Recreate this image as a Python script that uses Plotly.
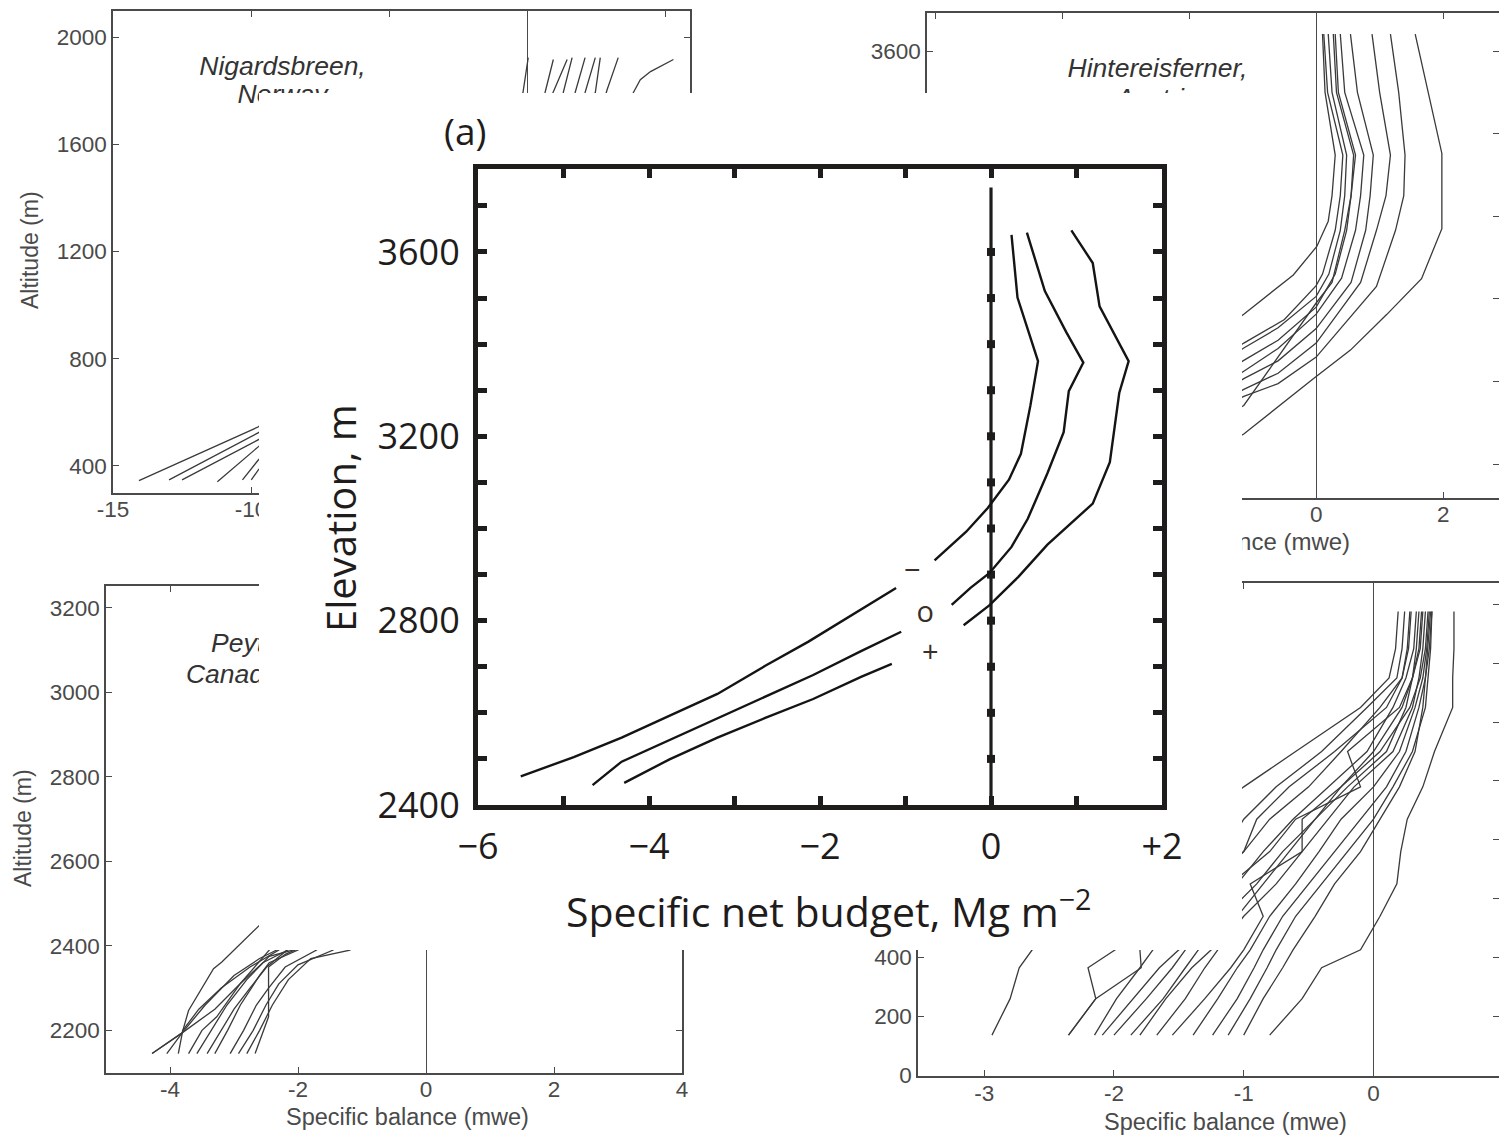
import plotly.graph_objects as go

W, H = 1499, 1137

# ---------------- panel (a): specific net budget vs elevation ----------------
budget_minus = [0.24, 0.31, 0.55, 0.46, 0.35, 0.21, -0.04, -0.29, -0.66, None,
                -1.11, -1.64, -2.14, -2.64, -3.20, -3.77, -4.32, -4.88, -5.50]
elev_minus = [3637, 3501, 3363, 3266, 3162, 3106, 3044, 2993, 2931, None,
              2871, 2810, 2754, 2702, 2641, 2593, 2546, 2504, 2462]
budget_zero = [0.42, 0.63, 0.88, 1.08, 0.91, 0.85, 0.66, 0.43, 0.24, -0.02, -0.24, -0.46, None,
               -1.05, -1.52, -2.08, -2.64, -3.20, -3.77, -4.32, -4.66]
elev_zero = [3642, 3515, 3426, 3360, 3298, 3209, 3120, 3021, 2960, 2903, 2871, 2834, None,
             2776, 2734, 2682, 2635, 2589, 2541, 2494, 2443]
budget_plus = [0.94, 1.19, 1.27, 1.61, 1.50, 1.39, 1.19, 0.94, 0.66, 0.32, -0.02, -0.32, None,
               -1.16, -1.52, -2.08, -2.64, -3.20, -3.76, -4.29]
elev_plus = [3647, 3576, 3482, 3363, 3294, 3144, 3054, 3012, 2965, 2895, 2833, 2790, None,
             2706, 2678, 2630, 2589, 2546, 2499, 2448]
curve_labels = ["\u2212", "o", "+"]
label_budget = [-0.92, -0.77, -0.71]
label_elev = [2905, 2812, 2726]

ref_line_budget = [0, 0]
ref_line_elev = [2400, 3740]
ref_tick_budget = [0] * 12
ref_tick_elev = [2500, 2600, 2700, 2800, 2900, 3000, 3100, 3200, 3300, 3400, 3500, 3600]

a_xticks = [-6, -5, -4, -3, -2, -1, 0, 1, 2]
a_xtext = ["\u22126", "", "\u22124", "", "\u22122", "", "0", "", "+2"]
a_yticks = [2400, 2500, 2600, 2700, 2800, 2900, 3000, 3100, 3200, 3300, 3400, 3500, 3600, 3700]
a_ytext = ["2400", "", "", "", "2800", "", "", "", "3200", "", "", "", "3600", ""]

# ---------------- background panel: Nigardsbreen ----------------
nig_balance = [
    [-14.06, -9.73, -6.0, -2.5, -0.5, -0.15, 0.04],
    [-12.97, -9.73, -6.0, -2.0, 0.3, 0.65, 0.95],
    [-12.5, -9.73, -5.5, -1.5, 0.6, 0.94, 1.45],
    [-11.22, -9.73, -5.0, -1.0, 1.0, 1.31, 1.63],
    [-10.31, -9.73, -4.5, -0.5, 1.4, 1.74, 2.10],
    [-9.99, -9.73, -4.0, 0.0, 1.8, 2.10, 2.47],
    [-8.5, -3.5, 0.5, 2.2, 2.47, 2.65],
    [-7.5, -3.0, 1.0, 2.6, 2.9, 3.3],
    [-6.0, -1.5, 2.0, 3.5, 3.85, 4.1, 4.47, 5.3],
]
nig_altitude = [
    [345, 546, 900, 1400, 1700, 1793, 1923],
    [348, 524, 880, 1400, 1700, 1793, 1916],
    [348, 498, 900, 1400, 1700, 1793, 1916],
    [341, 472, 900, 1400, 1700, 1793, 1923],
    [348, 423, 900, 1400, 1700, 1793, 1923],
    [348, 386, 900, 1400, 1700, 1793, 1923],
    [345, 900, 1400, 1700, 1793, 1923],
    [345, 900, 1400, 1700, 1804, 1923],
    [345, 900, 1400, 1700, 1793, 1841, 1871, 1916],
]

# ---------------- background panel: Hintereisferner ----------------
hin_balance = [
    [0.10, 0.14, 0.30, 0.25, 0.19, 0.01, -0.36, -1.14, -2.2],
    [0.12, 0.18, 0.42, 0.38, 0.30, 0.10, 0.00, -0.50, -1.14, -2.2],
    [0.19, 0.25, 0.48, 0.45, 0.38, 0.20, 0.00, -0.60, -1.14, -2.2],
    [0.27, 0.32, 0.59, 0.55, 0.48, 0.30, 0.00, -0.60, -1.14, -2.2],
    [0.30, 0.35, 0.62, 0.55, 0.45, 0.25, 0.00, -0.60, -1.14, -2.2],
    [0.38, 0.45, 0.75, 0.70, 0.62, 0.40, 0.00, -0.60, -1.14, -2.2],
    [0.54, 0.65, 0.90, 0.85, 0.78, 0.55, 0.00, -0.60, -1.14, -2.2],
    [0.88, 1.00, 1.17, 1.10, 0.95, 0.70, 0.00, -0.60, -1.14, -2.2],
    [1.17, 1.30, 1.40, 1.38, 1.25, 0.95, 0.00, -0.60, -1.14, -2.2],
    [1.56, 1.98, 1.98, 1.66, 1.11, 0.54, -0.04, -1.14, -2.2],
]
hin_altitude = [
    [3641, 3500, 3348, 3250, 3188, 3127, 3058, 2963, 2850],
    [3641, 3500, 3348, 3250, 3166, 3060, 3032, 2950, 2893, 2780],
    [3641, 3500, 3348, 3250, 3166, 3060, 3006, 2930, 2881, 2770],
    [3641, 3500, 3348, 3250, 3166, 3060, 2980, 2900, 2851, 2750],
    [3641, 3500, 3348, 3250, 3166, 3040, 2990, 2860, 2742, 2650],
    [3641, 3500, 3348, 3250, 3166, 3050, 2963, 2880, 2825, 2720],
    [3641, 3500, 3348, 3250, 3166, 3040, 2928, 2850, 2807, 2700],
    [3641, 3500, 3348, 3250, 3166, 3040, 2893, 2820, 2781, 2690],
    [3641, 3500, 3348, 3250, 3166, 3030, 2859, 2795, 2764, 2680],
    [3641, 3352, 3170, 3049, 2962, 2876, 2807, 2673, 2580],
]

# ---------------- background panel: Peyto Glacier ----------------
pey_balance = [
    [-4.28, -3.81, -3.71, -3.32, -3.19, -2.60, -1.6, -0.6, 0.2],
    [-4.28, -3.81, -3.30, -2.90, -2.45, -1.5, -0.5, 0.5],
    [-4.05, -3.81, -3.45, -3.00, -2.60, -2.20, -1.2, 0.6],
    [-3.87, -3.80, -3.55, -3.20, -2.75, -2.30, -1.2, 0.7],
    [-3.71, -3.50, -3.27, -2.90, -2.55, -2.10, -1.0, 0.8],
    [-3.58, -3.35, -3.11, -2.80, -2.45, -1.95, -0.9, 0.9],
    [-3.42, -3.20, -3.00, -2.75, -2.49, -2.17, -1.0, 1.0],
    [-3.30, -3.10, -2.90, -2.60, -2.45, -2.00, -0.8, 1.1],
    [-3.06, -2.85, -2.65, -2.46, -2.20, -1.71, -0.6, 1.2],
    [-2.93, -2.70, -2.50, -2.30, -2.00, -1.45, -0.4, 1.3],
    [-2.80, -2.60, -2.40, -2.15, -1.80, -1.19, -0.2, 1.4],
    [-2.67, -2.46, -2.46, -2.20, -1.60, -0.5, 1.0],
]
pey_altitude = [
    [2145, 2194, 2247, 2346, 2362, 2449, 2700, 2950, 3150],
    [2145, 2194, 2250, 2311, 2390, 2600, 2900, 3150],
    [2145, 2194, 2260, 2330, 2370, 2400, 2650, 3150],
    [2145, 2200, 2250, 2300, 2350, 2390, 2650, 3150],
    [2145, 2200, 2232, 2311, 2360, 2395, 2650, 3150],
    [2145, 2200, 2260, 2320, 2375, 2395, 2650, 3150],
    [2145, 2200, 2250, 2300, 2350, 2390, 2650, 3150],
    [2145, 2200, 2260, 2330, 2360, 2390, 2650, 3150],
    [2145, 2200, 2260, 2300, 2350, 2390, 2650, 3150],
    [2145, 2200, 2260, 2310, 2355, 2390, 2650, 3150],
    [2145, 2200, 2260, 2320, 2370, 2390, 2650, 3150],
    [2145, 2232, 2350, 2380, 2420, 2650, 3150],
]

# ---------------- background panel: lower-right glacier ----------------
br_altitude = [136, 260, 365, 426, 540, 650, 760, 870, 980, 1100, 1250, 1350, 1450, 1576]
br_balance = [
    [-2.94, -2.80, -2.73, -2.63, -2.30, -1.90, -1.60, -1.30, -1.00, -0.60, -0.10, 0.12, 0.17, 0.19],
    [-2.35, -2.14, -2.20, -1.99, -1.70, -1.40, -1.15, -1.00, -0.75, -0.40, -0.05, 0.18, 0.22, 0.24],
    [-2.35, -2.14, -1.79, -1.80, -1.60, -1.30, -1.00, -0.80, -0.50, -0.25, 0.05, 0.22, 0.27, 0.29],
    [-2.09, -1.85, -1.65, -1.50, -1.30, -1.05, -0.85, -0.62, -0.35, -0.05, 0.15, 0.25, 0.31, 0.33],
    [-1.87, -1.62, -1.45, -1.35, -1.15, -0.90, -0.70, -0.45, -0.20, 0.10, 0.25, 0.30, 0.35, 0.37],
    [-1.67, -1.45, -1.30, -1.20, -1.00, -0.75, -0.55, -0.35, -0.15, 0.15, 0.30, 0.35, 0.38, 0.40],
    [-1.39, -1.20, -1.05, -0.95, -0.80, -0.60, -0.42, -0.25, 0.00, 0.20, 0.32, 0.38, 0.41, 0.43],
    [-1.24, -1.05, -0.92, -0.85, -0.70, -0.50, -0.30, -0.10, 0.10, 0.25, 0.35, 0.40, 0.43, 0.45],
    [-1.12, -0.95, -0.82, -0.75, -0.60, -0.40, -0.20, 0.00, 0.15, 0.30, 0.40, 0.42, 0.44, 0.45],
    [-0.80, -0.55, -0.40, -0.10, 0.05, 0.18, 0.21, 0.26, 0.38, 0.47, 0.61, 0.61, 0.62, 0.62],
    [-2.00, -1.75, -1.55, -1.45, -1.25, -1.10, -0.80, -0.60, -0.10, -0.20, 0.20, 0.30, 0.36, 0.38],
    [-1.55, -1.30, -1.10, -1.00, -0.85, -0.95, -0.55, -0.55, -0.25, 0.05, 0.28, 0.36, 0.40, 0.42],
    [-1.00, -0.85, -0.70, -0.62, -0.45, -0.30, -0.10, 0.05, 0.20, 0.32, 0.38, 0.40, 0.42, 0.44],
    [-1.80, -1.60, -1.40, -1.25, -1.05, -0.85, -0.65, -0.45, -0.25, 0.00, 0.22, 0.30, 0.33, 0.35],
    [-2.15, -1.98, -1.80, -1.70, -1.50, -1.25, -1.00, -0.90, -0.65, -0.30, 0.10, 0.22, 0.26, 0.28],
]

# background tick values and labels (labels that lie under panel (a) are left blank)
nig_xticks = [-15, -10, -5, 0, 5]
nig_xtext = ["-15", "-10", "", "", ""]
nig_yticks = [400, 800, 1200, 1600, 2000]
nig_ytext = ["400", "800", "1200", "1600", "2000"]
hin_xticks = [-6, -4, -2, 0, 2]
hin_xtext = ["", "", "", "0", "2"]
hin_yticks = [2600, 2800, 3000, 3200, 3400, 3600]
hin_ytext = ["", "", "", "", "", "3600"]
pey_xticks = [-4, -2, 0, 2, 4]
pey_xtext = ["-4", "-2", "0", "2", "4"]
pey_yticks = [2200, 2400, 2600, 2800, 3000, 3200]
pey_ytext = ["2200", "2400", "2600", "2800", "3000", "3200"]
br_xticks = [-3, -2, -1, 0]
br_xtext = ["-3", "-2", "-1", "0"]
br_yticks = [0, 200, 400, 600, 800, 1000, 1200, 1400, 1600]
br_ytext = ["0", "200", "400", "", "", "", "", "", ""]

# panel titles (text labels)
nig_title = ["<i>Nigardsbreen,</i>", "<i>Norway</i>"]
hin_title = ["<i>Hintereisferner,</i>", "<i>Austria</i>"]
pey_title = ["<i>Peyto Glacier,</i>", "<i>Canadian Rockies</i>"]
balance_title = "Specific balance (mwe)"
altitude_title = "Altitude (m)"

# ------------------------------------------------------------------
BG = "#4a4a4a"
LINE_BG = "#3a3a3a"
BG_FONT = "Liberation Sans"
A_FONT = "Open Sans"
A_COL = "#1f1c1c"


def dom_x(left, right):
    return [left / W, min(right / W, 1.0)]


def dom_y(top, bottom):
    return [1 - bottom / H, 1 - top / H]


fig = go.Figure()


def add_lines(xs_list, ys_list, n):
    for xs, ys in zip(xs_list, ys_list):
        fig.add_trace(go.Scatter(x=xs, y=ys, mode="lines",
                                 line=dict(color=LINE_BG, width=1.3),
                                 xaxis="x" + n, yaxis="y" + n,
                                 hoverinfo="skip", showlegend=False))


def add_text(xs, ys, texts, n, size=26.5, color="#333333"):
    fig.add_trace(go.Scatter(x=xs, y=ys, mode="text", text=texts,
                             textposition="middle center",
                             textfont=dict(family=BG_FONT, size=size, color=color),
                             xaxis="x" + n, yaxis="y" + n, cliponaxis=False,
                             hoverinfo="skip", showlegend=False))


# subplot 2: Nigardsbreen (top-left)
add_lines(nig_balance, nig_altitude, "2")
add_text([-8.86], [1882], nig_title[:1], "2")
add_text([-8.86], [1777], nig_title[1:], "2")
# subplot 3: Hintereisferner (top-right)
add_lines(hin_balance, hin_altitude, "3")
add_text([-2.50], [3553], hin_title[:1], "3")
add_text([-2.50], [3480], hin_title[1:], "3")
# subplot 4: Peyto (bottom-left)
add_lines(pey_balance, pey_altitude, "4")
add_text([-2.07], [3111], pey_title[:1], "4")
add_text([-2.07], [3038], pey_title[1:], "4")
# subplot 5: bottom-right glacier
add_lines(br_balance, [br_altitude] * len(br_balance), "5")
# subplot 6: holder for the (partly covered) x title of the Hintereisferner panel
add_text([0.5], [0.5], [balance_title], "6", size=24, color=BG)

# subplot 7: white backing sheet of panel (a)
fig.add_trace(go.Scatter(x=[0, 1, 1, 0, 0], y=[0, 0, 1, 1, 0], mode="lines",
                         fill="toself", fillcolor="white",
                         line=dict(color="white", width=0),
                         xaxis="x7", yaxis="y7", hoverinfo="skip", showlegend=False))

# subplot 8: panel (a)
fig.add_trace(go.Scatter(x=ref_line_budget, y=ref_line_elev, mode="lines",
                         line=dict(color=A_COL, width=3.2),
                         xaxis="x8", yaxis="y8", hoverinfo="skip", showlegend=False))
fig.add_trace(go.Scatter(x=ref_tick_budget, y=ref_tick_elev, mode="markers",
                         marker=dict(symbol="square", size=8, color=A_COL),
                         xaxis="x8", yaxis="y8", hoverinfo="skip", showlegend=False))
for xs, ys in [(budget_minus, elev_minus), (budget_zero, elev_zero), (budget_plus, elev_plus)]:
    fig.add_trace(go.Scatter(x=xs, y=ys, mode="lines", connectgaps=False,
                             line=dict(color="#141414", width=2.4),
                             xaxis="x8", yaxis="y8", hoverinfo="skip", showlegend=False))
fig.add_trace(go.Scatter(x=label_budget, y=label_elev, mode="text", text=curve_labels,
                         textposition="middle center",
                         textfont=dict(family=A_FONT, size=29, color="#3a2f28"),
                         xaxis="x8", yaxis="y8", hoverinfo="skip", showlegend=False))


def bg_axis(domain, rng, ticks, labels, anchor, zeroline, standoff=0):
    return dict(domain=domain, range=rng, anchor=anchor, automargin=False,
                showline=True, linecolor=BG, linewidth=1.6, mirror="ticks",
                ticks="inside", ticklen=6, tickwidth=1.4, tickcolor=BG,
                tickvals=ticks, ticktext=labels, ticklabelstandoff=standoff,
                tickfont=dict(family=BG_FONT, size=22.5, color=BG),
                showgrid=False, zeroline=zeroline, zerolinecolor=BG, zerolinewidth=1.3,
                fixedrange=True)


def hidden_axis(domain, anchor):
    return dict(domain=domain, range=[0, 1], anchor=anchor, visible=False,
                automargin=False, fixedrange=True)


a_axis_common = dict(showline=True, linecolor=A_COL, linewidth=5, mirror="ticks",
                     ticks="inside", ticklen=9, tickwidth=5, tickcolor=A_COL,
                     tickfont=dict(family=A_FONT, size=36, color=A_COL),
                     showgrid=False, zeroline=False, fixedrange=True, automargin=False)

fig.update_layout(
    width=W, height=H,
    margin=dict(l=0, r=0, t=0, b=0, pad=0, autoexpand=False),
    paper_bgcolor="white", plot_bgcolor="rgba(0,0,0,0)",
    showlegend=False,
    xaxis2=bg_axis(dom_x(113, 690), [-15, 5.9], nig_xticks, nig_xtext, "y2", True, -5),
    yaxis2=bg_axis(dom_y(11, 493), [299, 2097], nig_yticks, nig_ytext, "x2", False),
    xaxis3=bg_axis(dom_x(927, 1499), [-6.13, 2.88], hin_xticks, hin_xtext, "y3", True, -5),
    yaxis3=bg_axis(dom_y(13, 498), [2518, 3692], hin_yticks, hin_ytext, "x3", False),
    xaxis4=bg_axis(dom_x(106, 682), [-5, 4], pey_xticks, pey_xtext, "y4", True, -5),
    yaxis4=bg_axis(dom_y(586, 1073), [2099, 3252], pey_yticks, pey_ytext, "x4", False),
    xaxis5=bg_axis(dom_x(918, 1499), [-3.51, 0.967], br_xticks, br_xtext, "y5", True, -4),
    yaxis5=bg_axis(dom_y(583, 1076), [-3, 1673], br_yticks, br_ytext, "x5", False),
    xaxis6=hidden_axis(dom_x(1186, 1266), "y6"),
    yaxis6=hidden_axis(dom_y(534, 554), "x6"),
    xaxis7=hidden_axis(dom_x(259, 1242), "y7"),
    yaxis7=hidden_axis(dom_y(93, 950), "x7"),
    xaxis8=dict(domain=dom_x(478, 1162), range=[-6, 2], anchor="y8",
                tickvals=a_xticks, ticktext=a_xtext, ticklabelstandoff=6, **a_axis_common),
    yaxis8=dict(domain=dom_y(169, 805), range=[2400, 3780], anchor="x8",
                tickvals=a_yticks, ticktext=a_ytext, ticklabelstandoff=6, **a_axis_common),
)

annotations = [
    dict(x=30 / W, y=1 - 250 / H, text=altitude_title, textangle=-90,
         font=dict(family=BG_FONT, size=23, color=BG)),
    dict(x=23 / W, y=1 - 828 / H, text=altitude_title, textangle=-90,
         font=dict(family=BG_FONT, size=23, color=BG)),
    dict(x=408 / W, y=1 - 1117 / H, text=balance_title,
         font=dict(family=BG_FONT, size=23.5, color=BG)),
    dict(x=1225 / W, y=1 - 1122 / H, text=balance_title,
         font=dict(family=BG_FONT, size=23.5, color=BG)),
    dict(x=465 / W, y=1 - 130 / H, text="(a)",
         font=dict(family=A_FONT, size=37, color=A_COL)),
    dict(x=340 / W, y=1 - 518 / H, text="Elevation, m", textangle=-90,
         font=dict(family=A_FONT, size=40, color=A_COL)),
    dict(x=828 / W, y=1 - 909 / H, text="Specific net budget, Mg m<sup>\u22122</sup>",
         font=dict(family=A_FONT, size=41, color=A_COL)),
]
for a in annotations:
    a.update(xref="paper", yref="paper", showarrow=False, xanchor="center", yanchor="middle")
fig.update_layout(annotations=annotations)

fig.write_html("out.html")
